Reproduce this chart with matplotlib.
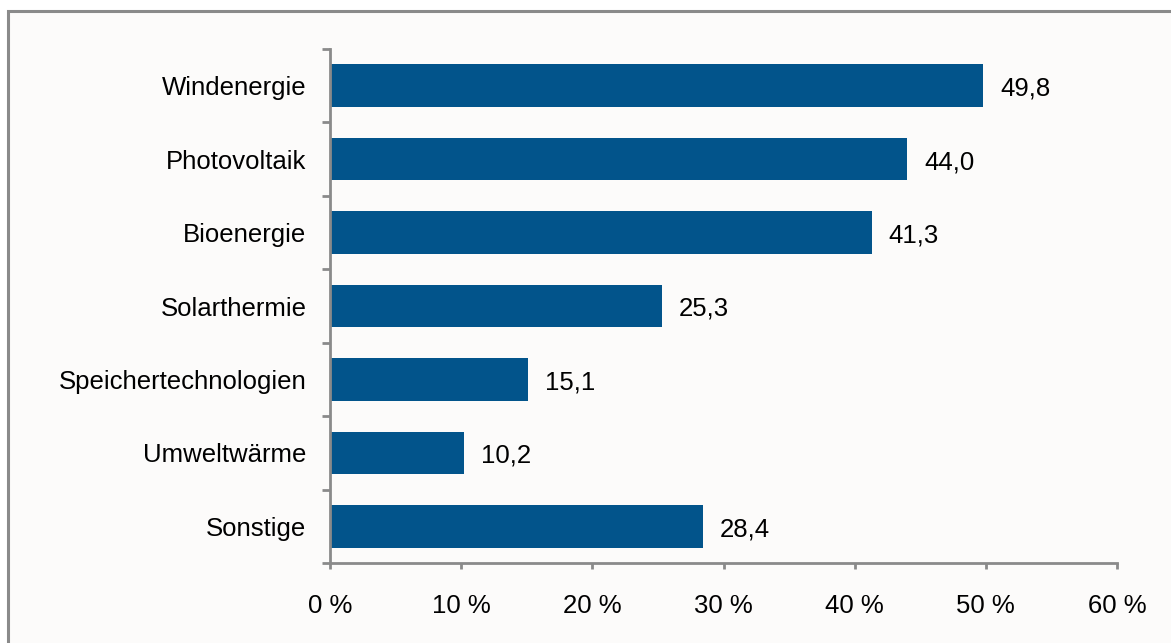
import matplotlib.pyplot as plt
from matplotlib.patches import Rectangle
from matplotlib.ticker import FixedLocator

plt.rcParams['font.family'] = ['Liberation Sans', 'DejaVu Sans']

# ─── Data ─────────────────────────────────────────────────────────────────────
categories = ['Windenergie', 'Photovoltaik', 'Bioenergie', 'Solarthermie',
              'Speichertechnologien', 'Umweltwärme', 'Sonstige']
values = [49.8, 44.0, 41.3, 25.3, 15.1, 10.2, 28.4]
xticks = [0, 10, 20, 30, 40, 50, 60]

BAR_COLOR = '#02548b'
GRAY = '#8a8a8a'
FS = 18.5

fig = plt.figure(figsize=(11.71, 6.43), dpi=100, facecolor='white')

# Chart area frame (runs off the right/bottom edge like the source)
fig.patches.append(Rectangle((8 / 1171, -0.1), 1.2, 1 + 0.1 - 11 / 643,
                             transform=fig.transFigure, facecolor='#fcfbfa',
                             edgecolor=GRAY, linewidth=2.2, zorder=-10))

ax = fig.add_axes([330 / 1171, 80 / 643, 787 / 1171, 514 / 643])
ax.set_zorder(5)
ax.set_facecolor('none')

ypos = list(range(len(categories)))
ax.barh(ypos, values, height=0.58, color=BAR_COLOR, zorder=2)

for y, v in zip(ypos, values):
    ax.text(v + 1.3, y + 0.04, f'{v:.1f}'.replace('.', ','), va='center', ha='left',
            fontsize=FS, color='black')

ax.set_xlim(0, 60)
ax.set_ylim(len(categories) - 0.5, -0.5)
ax.set_xticks(xticks)
ax.set_xticklabels([f'{t} %' for t in xticks])
ax.set_yticks(ypos)
ax.set_yticklabels(categories)
ax.yaxis.set_minor_locator(FixedLocator([i - 0.5 for i in range(len(categories) + 1)]))

for side in ('top', 'right'):
    ax.spines[side].set_visible(False)
for side in ('left', 'bottom'):
    ax.spines[side].set_color(GRAY)
    ax.spines[side].set_linewidth(2)

ax.tick_params(axis='y', which='major', length=0, pad=17, labelsize=FS)
ax.tick_params(axis='y', which='minor', length=6, width=2, color=GRAY)
ax.tick_params(axis='x', length=4, width=2, color=GRAY, pad=18, labelsize=FS)

fig.savefig('out.png', dpi=100, facecolor='white')
